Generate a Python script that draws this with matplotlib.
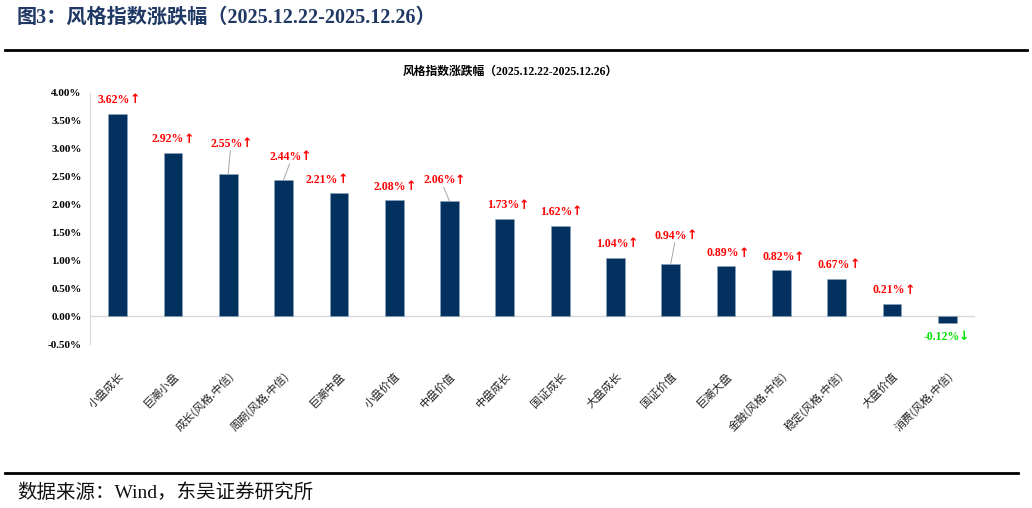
import matplotlib
matplotlib.use('Agg')
import matplotlib.pyplot as plt
from matplotlib.lines import Line2D

plt.rcParams['font.family'] = ['Noto Sans CJK SC', 'DejaVu Sans']

# data
categories = ['小盘成长', '巨潮小盘', '成长(风格.中信)', '周期(风格.中信)', '巨潮中盘',
              '小盘价值', '中盘价值', '中盘成长', '国证成长', '大盘成长', '国证价值',
              '巨潮大盘', '金融(风格.中信)', '稳定(风格.中信)', '大盘价值', '消费(风格.中信)']
changes = [3.62, 2.92, 2.55, 2.44, 2.21, 2.08, 2.06, 1.73, 1.62, 1.04, 0.94,
           0.89, 0.82, 0.67, 0.21, -0.12]
yticks = [-0.5, 0.0, 0.5, 1.0, 1.5, 2.0, 2.5, 3.0, 3.5, 4.0]

# label offsets in pixels (dx, dy) from bar end, leader = draw a grey line
label_off = [(-4, 14), (-5, 14), (-2, 30), (2, 23), (-17, 13), (-4, 13), (-10, 21), (-2, 14),
             (-4, 14), (-3, 14), (0, 28), (-3, 13), (-3, 13), (-3, 14), (-3, 14), (-6, -14)]
leader = [2, 3, 6, 10]
serif = ['Liberation Serif', 'Noto Sans CJK SC', 'DejaVu Sans']

fig = plt.figure(figsize=(10.32, 5.08), dpi=100)
ax = fig.add_axes([90/1032, 1-344/508, (975-90)/1032, (344-92.7)/508])

x = list(range(len(categories)))
ax.bar(x, changes, width=0.34, color='#03315F', edgecolor='#8FA5BD', linewidth=0.4, zorder=3)
ax.axhline(0, color='#D9D9D9', lw=1, zorder=2)

ax.set_xlim(-0.5, len(categories) - 0.5)
ax.set_ylim(-0.5, 4.0)
ax.set_yticks(yticks)
ax.set_yticklabels(['%.2f%%' % v for v in yticks], fontsize=8, fontweight='bold',
                   family=serif)
ax.tick_params(axis='y', length=0, pad=6)
ax.set_xticks(x)
ax.set_xticklabels(categories, rotation=45, ha='right', rotation_mode='anchor',
                   fontsize=8, color='#222222')
ax.tick_params(axis='x', length=0, pad=19)

for s in ['top', 'right', 'bottom']:
    ax.spines[s].set_visible(False)
ax.spines['left'].set_color('#D9D9D9')

for i, v in enumerate(changes):
    dx, dy = label_off[i]
    if v >= 0:
        num, arr, col = '%.2f%%' % v, '↑', '#FF0000'
    else:
        num, arr, col = '%.2f%%' % v, '↓', '#00E000'
    t = ax.annotate(num, xy=(i, v), xytext=(dx, dy), textcoords='offset pixels',
                    ha='center', va='center', fontsize=8.5, fontweight='bold', color=col,
                    family=serif, zorder=4)
    ax.annotate(arr, xy=(1, 0.5), xycoords=t, xytext=(-0.5, 0), textcoords='offset points',
                ha='left', va='center', fontsize=9, fontweight='bold', color=col,
                family=['DejaVu Sans'], zorder=4)
    if i in leader:
        ax.annotate('', xy=(i, v), xytext=(dx + 4, dy - 7), textcoords='offset pixels',
                    arrowprops=dict(arrowstyle='-', color='#A6A6A6', lw=0.7,
                                    shrinkA=0, shrinkB=0), zorder=4)

fig.text(510/1032, 1-72/508, '风格指数涨跌幅（2025.12.22-2025.12.26）', fontsize=8.5,
         fontweight='bold', ha='center', va='center', family=serif)

# report framing
fig.text(17/1032, 1-18/508, '图3：风格指数涨跌幅（2025.12.22-2025.12.26）', fontsize=14.5,
         fontweight='bold', color='#1F3864', va='center', ha='left', family=serif)
fig.add_artist(Line2D([5/1032, 1027/1032], [1-50/508, 1-50/508], color='black', lw=2))
fig.add_artist(Line2D([5/1032, 1018/1032], [1-473/508, 1-473/508], color='black', lw=2))
fig.text(17/1032, 1-493/508, '数据来源：Wind，东吴证券研究所', fontsize=14,
         va='center', ha='left', color='#111111', family=serif)

plt.savefig('out.png', dpi=100)
